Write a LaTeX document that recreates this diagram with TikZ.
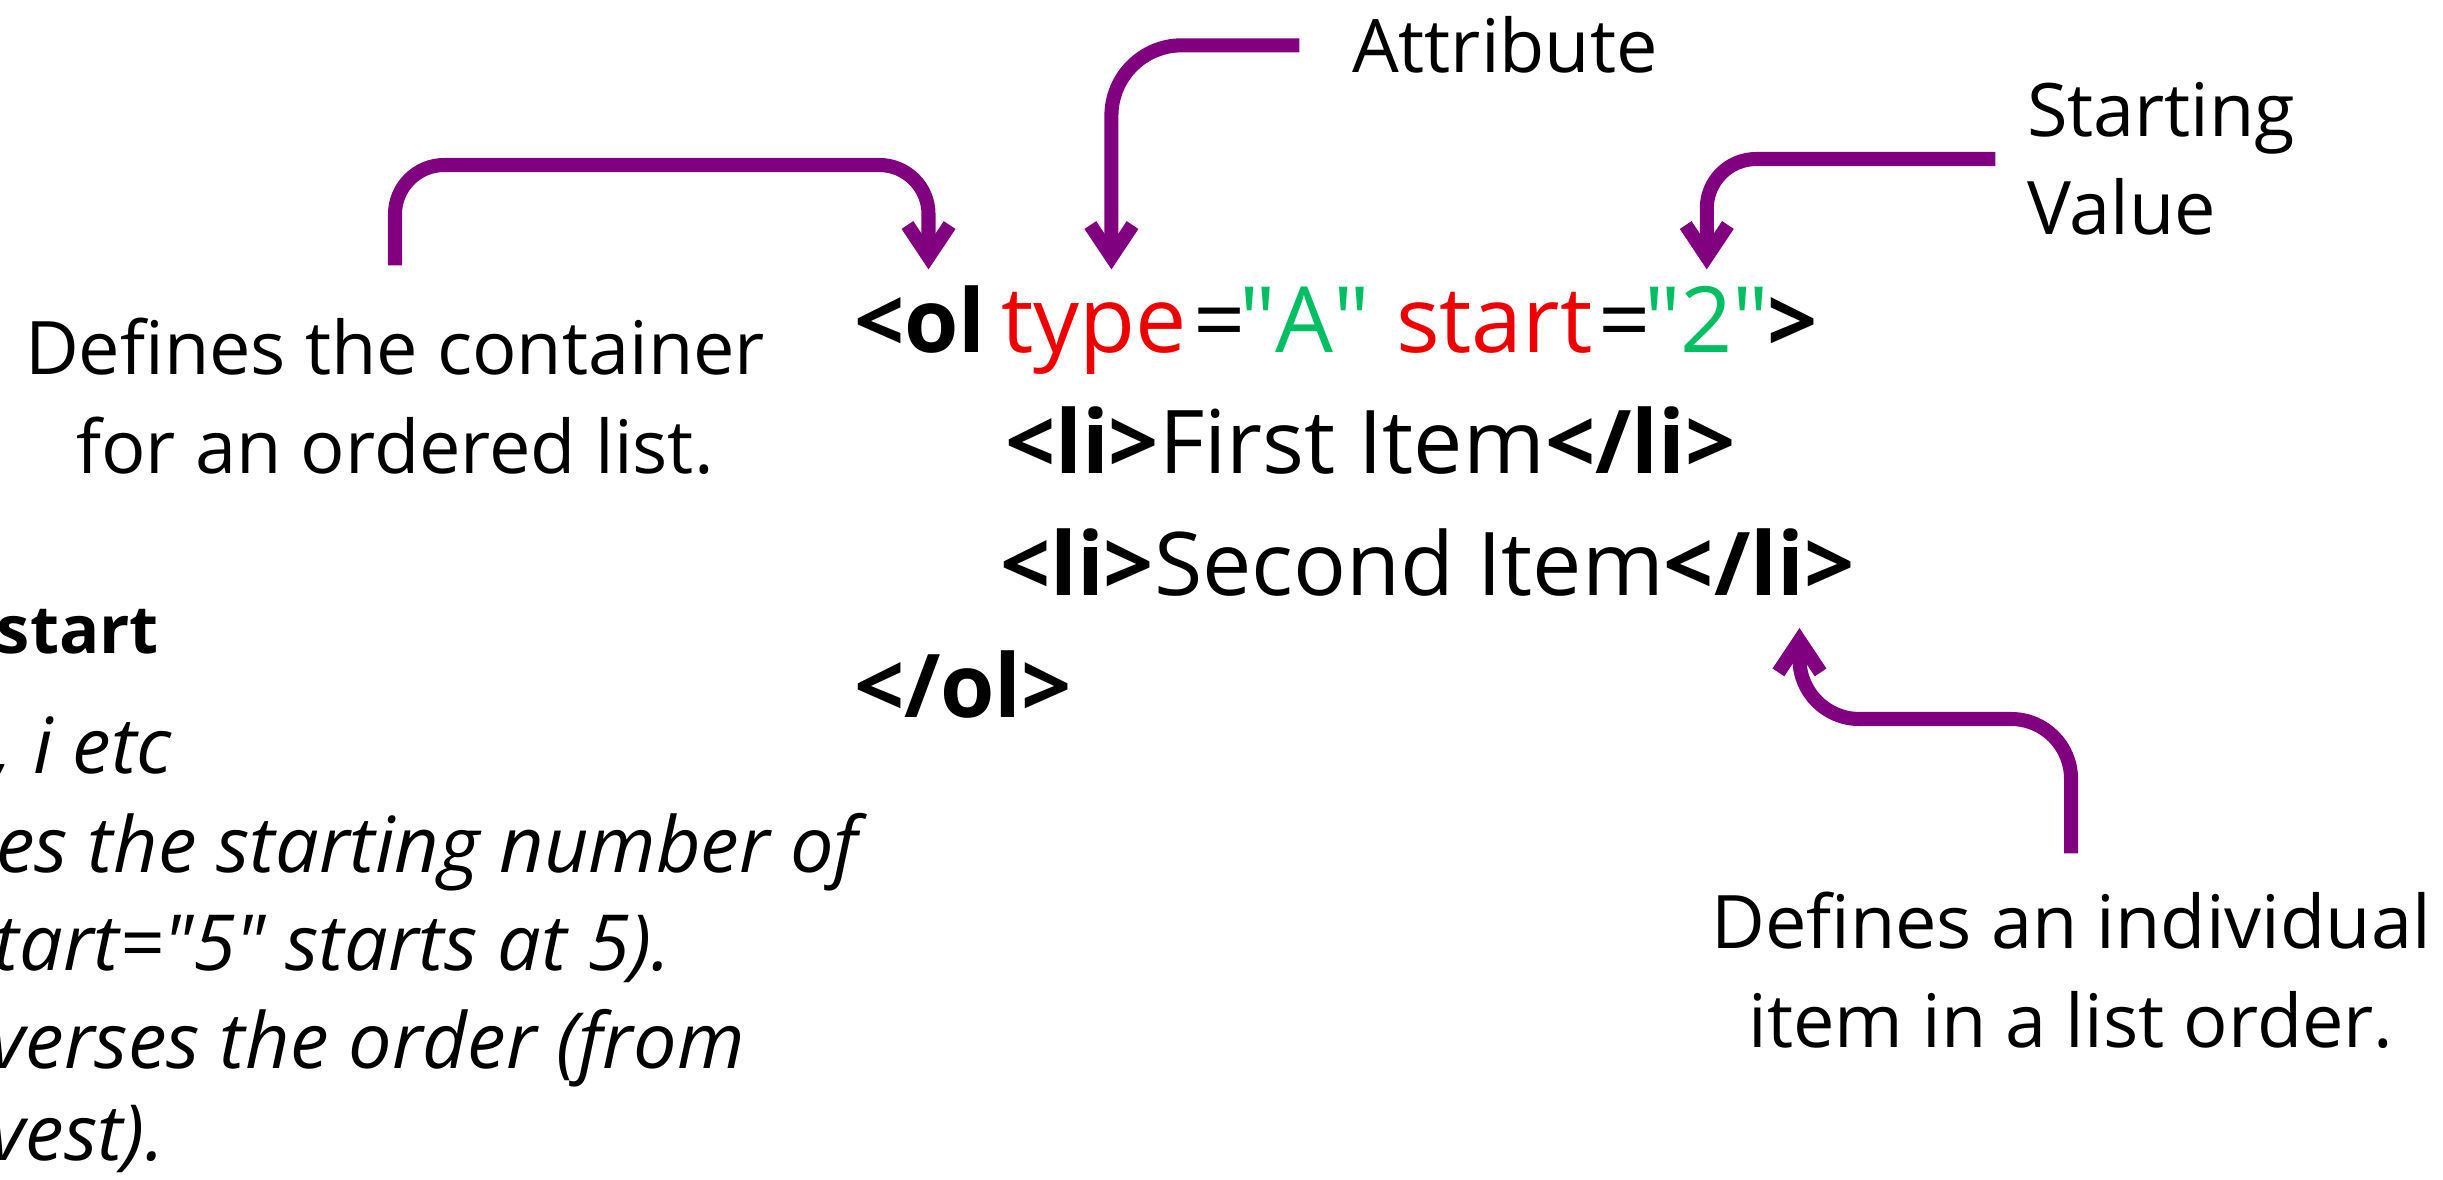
\documentclass[tikz,border=0pt]{standalone}
\usepackage{fontspec}
\setmainfont{Open Sans}
\usepackage{xcolor}
\usepackage{tikz}
\usetikzlibrary{arrows.meta,positioning}

\definecolor{arrowpurple}{HTML}{800080}
\definecolor{attrred}{HTML}{EE0000}
\definecolor{valgreen}{HTML}{00BF63}

\newcommand{\qval}[1]{\textquotedbl#1\textquotedbl}

\begin{document}
\begin{tikzpicture}[>=Latex, x=0.01cm, y=-0.01cm]
  % Styles
  \tikzstyle{lab}=[inner sep=0pt, outer sep=0pt, align=center, font=\fontsize{21}{28}\selectfont]
  \tikzstyle{note}=[inner sep=0pt, outer sep=0pt, anchor=base west, font=\fontsize{22}{28}\selectfont\itshape]
  \tikzstyle{code}=[inner sep=0pt, outer sep=0pt, anchor=base west, text height=19pt, text depth=6pt, font=\fontsize{25}{30}\selectfont]
  \tikzstyle{tag}=[code, font=\fontsize{25}{30}\selectfont\bfseries]
  \tikzstyle{head}=[code, font=\fontsize{26}{30}\selectfont]
  \tikzstyle{attr}=[head, text=attrred]
  \tikzstyle{val}=[head, text=valgreen]
  \tikzstyle{pointer}=[draw=arrowpurple, line width=4pt, rounded corners=14pt, -{Straight Barb[length=9pt, width=12pt]}]

  \useasboundingbox (0,0) rectangle (2443,1179);

  % Labels round the code (base = last line)
  \node[lab, anchor=base] (lbl_cont) at (395,473) {Defines the container\\for an ordered list.};
  \node[lab, anchor=base west] (lbl_attr) at (1352,73) {Attribute};
  \node[lab, align=left, anchor=base west] (lbl_start) at (2027,235) {Starting\\Value};
  \node[lab, anchor=base] (lbl_item) at (2071,1047) {Defines an individual\\item in a list order.};

  % Code: first line
  \node[tag] (ol_open) at (854,352) {<ol};
  \node[attr] (attr_type) at (1001,352) {type};
  \node[head] (eq_type) at (1193,352) {=};
  \node[val] (val_a) at (1239,352) {\qval{A}};
  \node[attr] (attr_start) at (1396,352) {start};
  \node[head] (eq_start) at (1598,352) {=};
  \node[val] (val_two) at (1644,352) {\qval{2}};
  \node[tag] (ol_gt) at (1767,352) {>};

  % Code: items and end tag
  \node[code] (li_first) at (1005,473) {\textbf{<li>}First Item\textbf{</li>}};
  \node[code] (li_second) at (1000,595) {\textbf{<li>}Second Item};
  \node[tag, base right=0pt of li_second] (li_end) {</li>};
  \node[tag] (ol_end) at (854,717) {</ol>};

  % Notes cut at the left edge
  \node[note, font=\fontsize{19}{28}\selectfont\bfseries] (note_head) at (-3,653) {start};
  \node[note] (note_vals) at (-6,773) {, i etc};
  \node[note] (note_l1) at (-4,872) {es the starting number of};
  \node[note] (note_l2) at (-6,970) {tart=\qval{5} starts at 5).};
  \node[note] (note_l3) at (-10,1068) {verses the order (from};
  \node[note] (note_l4) at (-10,1160) {vest).};

  % Bends of the pointers
  \coordinate (bar_cont) at (660,165);
  \coordinate (bar_item) at (1950,719);

  % Pointers
  \draw[pointer, shorten <=15pt, shorten >=4.5pt] (lbl_cont.north) |- (bar_cont) -| ([xshift=2.5pt]ol_open.north);
  \draw[pointer, rounded corners=20pt, shorten <=15pt, shorten >=4.5pt] (lbl_attr.west) -| ([xshift=5pt]attr_type.north);
  \draw[pointer, shorten <=9pt, shorten >=4.5pt] (lbl_start.west) -| (val_two.north);
  \draw[pointer, rounded corners=17pt, shorten <=11pt, shorten >=3.4pt] (lbl_item.north) |- (bar_item) -| ([xshift=11.5pt]li_end.south);
\end{tikzpicture}
\end{document}
